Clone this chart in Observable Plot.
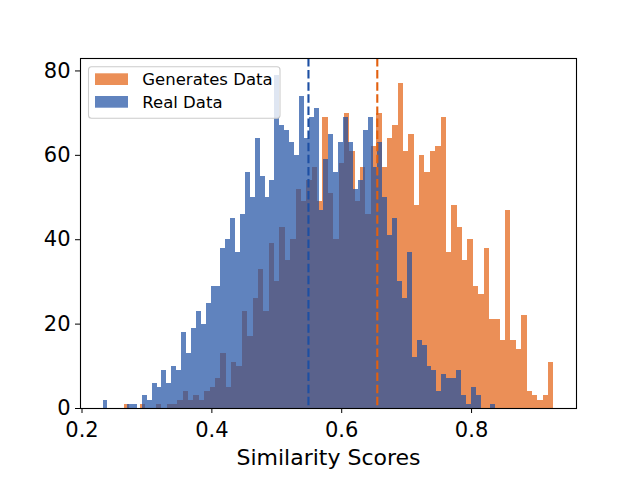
<!DOCTYPE html>
<html>
<head>
<meta charset="utf-8">
<script src="https://cdn.jsdelivr.net/npm/d3@7"></script>
<script src="https://cdn.jsdelivr.net/npm/@observablehq/plot@0.6"></script>
<style>
html, body { margin: 0; padding: 0; background: #fff; }
#chart svg { display: block; }
</style>
</head>
<body>
<div id="chart"></div>
<script>
// ---- data ----
const seriesNames = ["Generates Data", "Real Data"];

// Real Data histogram: 80 bins
const blueStart = 0.2324;
const blueEnd = 0.8373;
const blueCounts = [2,0,0,0,0,1,1,0,3,2,6,5,9,6,10,9,18,13,19,23,20,25,29,29,38,40,45,37,46,56,50,64,55,50,54,79,67,66,63,60,74,64,69,71,47,59,65,56,63,69,63,52,54,66,69,57,63,50,41,45,30,26,37,12,16,15,10,9,4,8,7,7,9,3,1,5,3,0,0,1];

// Generates Data histogram: 80 bins
const orangeStart = 0.2648;
const orangeEnd = 0.9269;
const orangeCounts = [1,0,0,1,0,0,1,0,1,1,2,4,2,3,2,4,5,7,13,5,11,10,23,17,26,33,23,39,30,43,35,40,52,49,54,57,49,69,51,40,58,70,61,49,57,46,62,70,57,64,67,77,61,65,48,60,56,61,62,69,37,48,43,35,40,29,27,38,21,21,16,47,16,14,22,4,3,2,3,11];

// means (dashed lines)
const blueMean = 0.5488;
const orangeMean = 0.6548;

const xTicks = [0.2, 0.4, 0.6, 0.8];
const xTickLabels = ["0.2", "0.4", "0.6", "0.8"];
const yTicks = [0, 20, 40, 60, 80];
const yTickLabels = ["0", "20", "40", "60", "80"];
const xLabel = "Similarity Scores";

// ---- styling ----
const blueColor = "#1d4fa3";
const orangeColor = "#e2600f";
const alpha = 0.7;

function toBins(counts, start, end) {
  const w = (end - start) / counts.length;
  return counts.map((c, i) => ({x1: start + i * w, x2: start + (i + 1) * w, count: c}));
}
const blueBins = toBins(blueCounts, blueStart, blueEnd);
const orangeBins = toBins(orangeCounts, orangeStart, orangeEnd);

const span = orangeEnd - blueStart;
const xDomain = [blueStart - 0.05 * span, orangeEnd + 0.05 * span];
const yMax = Math.max(d3.max(blueCounts), d3.max(orangeCounts)) * 1.05;

const chart = Plot.plot({
  width: 640,
  height: 480,
  marginLeft: 80,
  marginRight: 64,
  marginTop: 58,
  marginBottom: 72,
  style: {fontFamily: "'DejaVu Sans', sans-serif", fontSize: "21px", background: "#fff", color: "#000"},
  x: {domain: xDomain, label: null},
  y: {domain: [0, yMax], label: null},
  marks: [
    Plot.rect(orangeBins, {x1: "x1", x2: "x2", y1: 0, y2: "count", fill: orangeColor, fillOpacity: alpha, shapeRendering: "crispEdges"}),
    Plot.rect(blueBins, {x1: "x1", x2: "x2", y1: 0, y2: "count", fill: blueColor, fillOpacity: alpha, shapeRendering: "crispEdges"}),
    Plot.ruleX([blueMean], {stroke: blueColor, strokeWidth: 2.1, strokeDasharray: "8.5,3.6"}),
    Plot.ruleX([orangeMean], {stroke: orangeColor, strokeWidth: 2.1, strokeDasharray: "8.5,3.6"}),
    Plot.axisX({ticks: xTicks, tickSize: 5, tickPadding: 8.5, fontSize: 21, label: null,
      tickFormat: d => xTickLabels[xTicks.indexOf(d)]}),
    Plot.axisY({ticks: yTicks, tickSize: 5, tickPadding: 5, fontSize: 21, label: null,
      tickFormat: d => yTickLabels[yTicks.indexOf(d)]}),
    Plot.text([xLabel], {text: d => d, frameAnchor: "bottom", lineAnchor: "middle", dy: 49, fontSize: 22}),
    Plot.frame({stroke: "#000", strokeWidth: 1.1})
  ]
});

document.getElementById("chart").appendChild(chart);

// ---- legend (matplotlib style, upper left) ----
const svg = d3.select(chart);
const lg = svg.append("g")
  .attr("font-family", "'DejaVu Sans', sans-serif")
  .attr("font-size", 16.5)
  .attr("text-anchor", "start");
lg.append("rect")
  .attr("x", 88.5).attr("y", 66.7).attr("width", 191.5).attr("height", 51.6)
  .attr("rx", 3).attr("fill", "#fff").attr("fill-opacity", 0.8)
  .attr("stroke", "#cccccc").attr("stroke-width", 1.1);
const legendItems = [
  {name: seriesNames[0], color: orangeColor},
  {name: seriesNames[1], color: blueColor}
];
legendItems.forEach((it, k) => {
  const top = 73.3 + k * 22.7;
  lg.append("rect").attr("x", 95).attr("y", top).attr("width", 33).attr("height", 11.7)
    .attr("fill", "#fff");
  lg.append("rect").attr("x", 95).attr("y", top).attr("width", 33).attr("height", 11.7)
    .attr("fill", it.color).attr("fill-opacity", alpha);
  lg.append("text").attr("x", 142.3).attr("y", top + 11.8)
    .attr("text-anchor", "start").attr("fill", "#000").text(it.name);
});
</script>
</body>
</html>
